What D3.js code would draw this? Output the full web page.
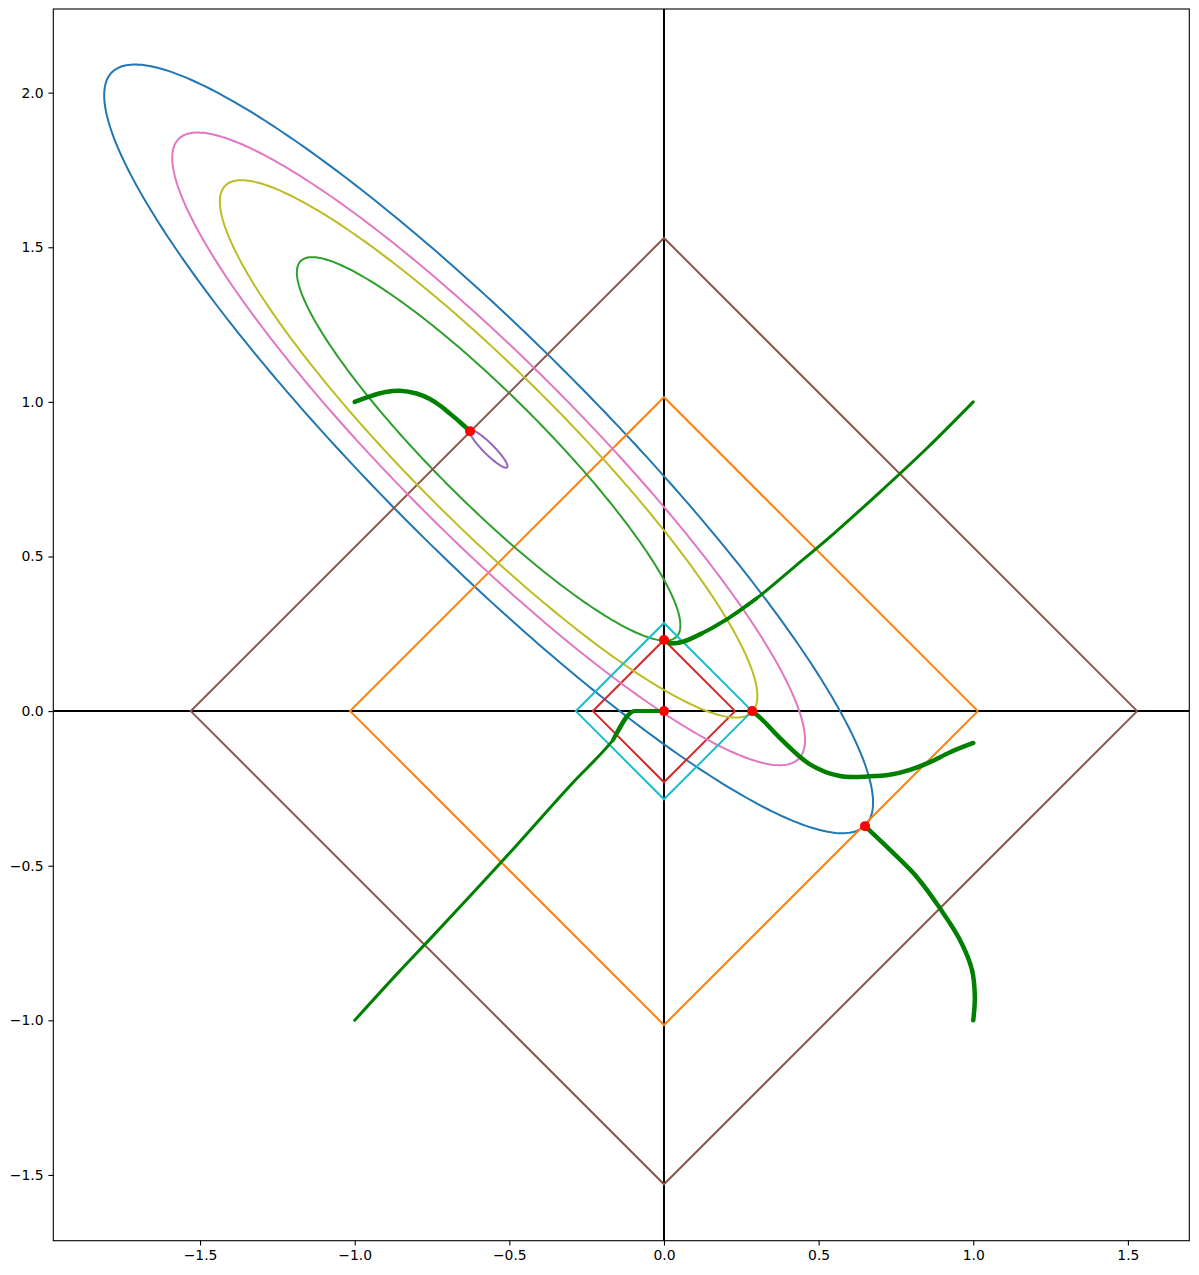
<!DOCTYPE html>
<html>
<head>
<meta charset="utf-8">
<script src="https://cdn.jsdelivr.net/npm/d3@7"></script>
<style>
  html, body { margin: 0; padding: 0; background: #fff; }
  text { font-family: "DejaVu Sans", sans-serif; }
</style>
</head>
<body>
<svg id="chart" width="1199" height="1275"></svg>
<script>
// ---------------- data ----------------
const xTicks = [-1.5, -1.0, -0.5, 0.0, 0.5, 1.0, 1.5];
const yTicks = [-1.5, -1.0, -0.5, 0.0, 0.5, 1.0, 1.5, 2.0];

// contour ellipses of the loss: common centre & correlation, one level per contour
const ellipseCenter = [-0.567, 0.848];
const ellipseRho = -0.92;
const ellipseLevels = [1.243, 0.62, 0.061, 1.023, 0.869];
const ellipseColors = ["#1f77b4", "#2ca02c", "#9467bd", "#e377c2", "#bcbd22"];

// L1 balls (diamonds)
const diamondRadii = [1.015, 0.23, 1.53, 0.285];
const diamondColors = ["#ff7f0e", "#d62728", "#8c564b", "#17becf"];

// optimisation paths
const path1 = [[-1.0, 1.0], [-0.951, 1.018], [-0.9, 1.032], [-0.854, 1.036], [-0.8, 1.027], [-0.757, 1.009], [-0.72, 0.985], [-0.692, 0.962], [-0.66, 0.935], [-0.627, 0.905]];
const path2 = [[1.0, 1.0], [0.85, 0.85], [0.7, 0.71], [0.55, 0.575], [0.42, 0.465], [0.3, 0.365], [0.2, 0.295], [0.12, 0.25], [0.06, 0.224], [0.02, 0.22], [0.0, 0.23]];
const path3 = [[1.0, -0.103], [0.925, -0.133], [0.86, -0.165], [0.795, -0.19], [0.73, -0.206], [0.666, -0.211], [0.569, -0.21], [0.472, -0.172], [0.375, -0.087], [0.32, -0.03], [0.285, 0.0]];
const path4 = [[1.0, -1.0], [1.005, -0.925], [0.996, -0.837], [0.957, -0.74], [0.892, -0.637], [0.818, -0.537], [0.731, -0.449], [0.65, -0.372]];
const path5 = [[-1.0, -1.0], [-0.854, -0.84], [-0.75, -0.73], [-0.5, -0.46], [-0.3, -0.237], [-0.165, -0.094], [-0.094, 0.0], [-0.05, 0.0], [0.0, 0.0]];

const solutionX = [0.0, 0.0, 0.285, 0.65, -0.627];
const solutionY = [0.23, 0.0, 0.0, -0.372, 0.905];

// ---------------- layout ----------------
const svg = d3.select("#chart");
const mLeft = 53.3, mRight = 1189.3, mTop = 9, mBottom = 1240.7;
const x = d3.scaleLinear().domain([-1.9745, 1.6985]).range([mLeft, mRight]);
const y = d3.scaleLinear().domain([-1.7126, 2.2705]).range([mBottom, mTop]);

svg.append("defs").append("clipPath").attr("id", "clip")
  .append("rect").attr("x", mLeft).attr("y", mTop).attr("width", mRight - mLeft).attr("height", mBottom - mTop);

const plot = svg.append("g").attr("clip-path", "url(#clip)");
const line = d3.line().x(d => x(d[0])).y(d => y(d[1]));

// zero lines
plot.append("line").attr("x1", mLeft).attr("x2", mRight).attr("y1", y(0)).attr("y2", y(0))
  .attr("stroke", "#000").attr("stroke-width", 2);
plot.append("line").attr("x1", x(0)).attr("x2", x(0)).attr("y1", mTop).attr("y2", mBottom)
  .attr("stroke", "#000").attr("stroke-width", 2);

function ellipsePoints(s) {
  const a = s * Math.sqrt(1 - ellipseRho), b = s * Math.sqrt(1 + ellipseRho);
  const r2 = Math.SQRT1_2;
  return d3.range(0, 361, 1).map(deg => {
    const t = deg * Math.PI / 180;
    const u = a * Math.cos(t), v = b * Math.sin(t);
    return [ellipseCenter[0] + r2 * (u + v), ellipseCenter[1] + r2 * (-u + v)];
  });
}
function diamondPoints(r) {
  return [[r, 0], [0, r], [-r, 0], [0, -r], [r, 0]];
}

// drawing order: ellipse, diamond pairs
const order = [
  ["e", 0], ["d", 0], ["e", 1], ["d", 1], ["e", 2], ["d", 2], ["e", 3], ["e", 4], ["d", 3]
];
order.forEach(([k, i]) => {
  if (k === "e") {
    plot.append("path").datum(ellipsePoints(ellipseLevels[i])).attr("d", line)
      .attr("fill", "none").attr("stroke", ellipseColors[i]).attr("stroke-width", 2);
  } else {
    plot.append("path").datum(diamondPoints(diamondRadii[i])).attr("d", line)
      .attr("fill", "none").attr("stroke", diamondColors[i]).attr("stroke-width", 2)
      .attr("stroke-linejoin", "miter");
  }
});

// optimisation paths
const curve = d3.line().x(d => x(d[0])).y(d => y(d[1])).curve(d3.curveCatmullRom.alpha(0.5));
const curveMono = d3.line().x(d => x(d[0])).y(d => y(d[1])).curve(d3.curveMonotoneX);
function drawPath(p, w, gen) {
  plot.append("path").datum(p).attr("d", gen || curve)
    .attr("fill", "none").attr("stroke", "#008000").attr("stroke-width", w)
    .attr("stroke-linecap", "round").attr("stroke-linejoin", "round");
}
drawPath(path1, 4.5);
drawPath(path2, 3);
drawPath(path2.slice(5), 3.8);
drawPath(path2.slice(7), 4.5);
drawPath(path3, 4.5);
drawPath(path4, 4.5);
drawPath(path5, 3, curveMono);
drawPath(path5.slice(5), 4, curveMono);

// solution points
plot.selectAll("circle.sol").data(solutionX).enter().append("circle")
  .attr("class", "sol")
  .attr("cx", d => x(d)).attr("cy", (d, i) => y(solutionY[i])).attr("r", 5)
  .attr("fill", "#ff0000");

// ---------------- axes ----------------
const fmt = d => d3.format(".1f")(d).replace("-", "\u2212");
const xAxis = d3.axisBottom(x).tickValues(xTicks).tickFormat(fmt).tickSize(4.9).tickPadding(4.9);
const yAxis = d3.axisLeft(y).tickValues(yTicks).tickFormat(fmt).tickSize(4.9).tickPadding(4.9);

const gx = svg.append("g").attr("transform", `translate(0,${mBottom})`).call(xAxis);
const gy = svg.append("g").attr("transform", `translate(${mLeft},0)`).call(yAxis);
[gx, gy].forEach(g => {
  g.select(".domain").remove();
  g.selectAll(".tick line").attr("stroke", "#000").attr("stroke-width", 1.1);
  g.selectAll(".tick text").attr("font-family", "DejaVu Sans").attr("font-size", 13.9).attr("fill", "#000");
});

// frame
svg.append("rect").attr("x", mLeft).attr("y", mTop).attr("width", mRight - mLeft).attr("height", mBottom - mTop)
  .attr("fill", "none").attr("stroke", "#000").attr("stroke-width", 1.1);
</script>
</body>
</html>
